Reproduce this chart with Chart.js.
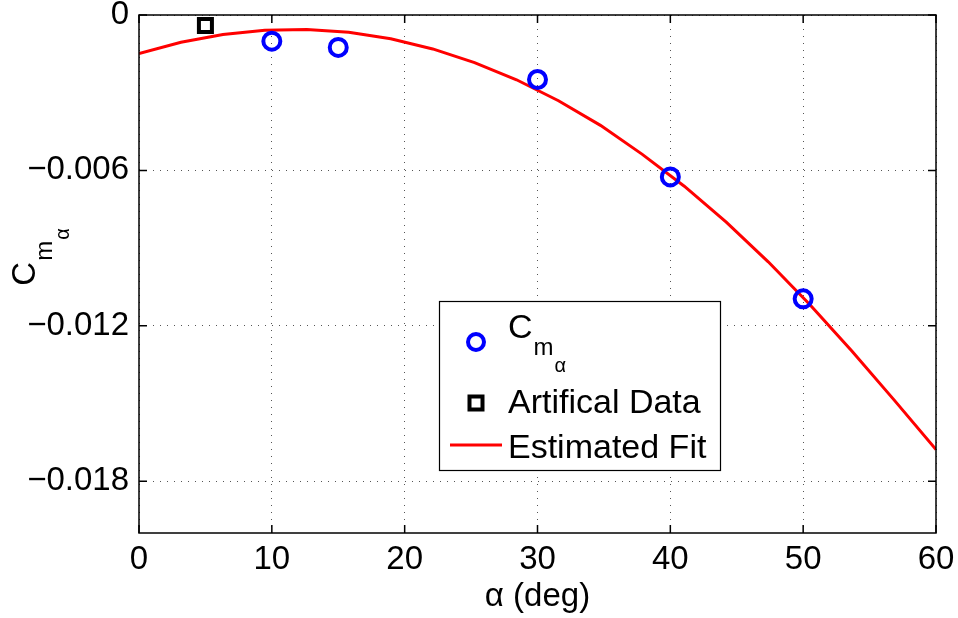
<!DOCTYPE html>
<html lang="en">
<head>
    <meta charset="UTF-8">
    <title>Cm alpha vs alpha</title>
    <script src="https://cdn.jsdelivr.net/npm/chart.js"></script>
    <style>
        body {
            margin: 0;
            background-color: #FFFFFF;
        }
        #wrap {
            width: 958px;
            height: 618px;
        }
    </style>
</head>
<body>
    <div id="wrap">
        <canvas id="cmChart" width="958" height="618"></canvas>
    </div>

    <script>
        // measured moment slope at each angle of attack
        const alphaDeg = [10, 15, 30, 40, 50];
        const cmAlpha = [-0.00101, -0.00125, -0.00249, -0.00625, -0.01096];

        // extra point added before the fit
        const artificialAlpha = [5];
        const artificialCm = [-0.00041];

        // fitted curve, sampled over 0..60 deg
        const fitAlpha = [0, 3.16, 6.32, 9.47, 12.63, 15.79, 18.95, 22.11, 25.26, 28.42,
                          31.58, 34.74, 37.89, 41.05, 44.21, 47.37, 50.53, 53.68, 56.84, 60];
        const fitCm = [-0.00149, -0.00105, -0.00075, -0.00059, -0.00056, -0.00067, -0.00092, -0.00131, -0.00184, -0.00250,
                       -0.00331, -0.00426, -0.00538, -0.00661, -0.00800, -0.00953, -0.01120, -0.01298, -0.01486, -0.01678];

        const xTicks = [0, 10, 20, 30, 40, 50, 60];
        const yTicks = [-0.018, -0.012, -0.006, 0];
        const yTickLabels = ['\u22120.018', '\u22120.012', '\u22120.006', '0'];

        const FONT = "'Liberation Sans', Arial, Helvetica, sans-serif";
        const BLUE = '#0000FF';
        const RED = '#FF0000';

        const toPoints = (xs, ys) => xs.map((x, i) => ({ x: x, y: ys[i] }));

        // draws "C" with subscript m and sub-subscript alpha, starting at (x, y) baseline
        function drawCmAlpha(ctx, x, y, size) {
            ctx.textAlign = 'left';
            ctx.textBaseline = 'alphabetic';
            ctx.font = size + 'px ' + FONT;
            ctx.fillText('C', x, y);
            x += ctx.measureText('C').width + 1;
            ctx.font = Math.round(size * 0.72) + 'px ' + FONT;
            ctx.fillText('m', x, y + 17);
            x += ctx.measureText('m').width + 1;
            ctx.font = Math.round(size * 0.6) + 'px ' + FONT;
            ctx.fillText('\u03b1', x, y + 34);
        }

        function cmAlphaWidth(ctx, size) {
            ctx.font = size + 'px ' + FONT;
            let w = ctx.measureText('C').width + 1;
            ctx.font = Math.round(size * 0.72) + 'px ' + FONT;
            w += ctx.measureText('m').width + 1;
            ctx.font = Math.round(size * 0.6) + 'px ' + FONT;
            w += ctx.measureText('\u03b1').width;
            return w;
        }

        // box around the axes with inward tick marks on all four sides
        const framePlugin = {
            id: 'frame',
            afterDatasetsDraw(chart) {
                const { ctx, chartArea: a, scales } = chart;
                ctx.save();
                ctx.strokeStyle = '#000000';
                ctx.lineWidth = 1.5;
                ctx.strokeRect(a.left, a.top, a.right - a.left, a.bottom - a.top);
                ctx.beginPath();
                xTicks.forEach(v => {
                    const px = scales.x.getPixelForValue(v);
                    ctx.moveTo(px, a.bottom); ctx.lineTo(px, a.bottom - 8);
                    ctx.moveTo(px, a.top); ctx.lineTo(px, a.top + 8);
                });
                yTicks.forEach(v => {
                    const py = scales.y.getPixelForValue(v);
                    ctx.moveTo(a.left, py); ctx.lineTo(a.left + 8, py);
                    ctx.moveTo(a.right, py); ctx.lineTo(a.right - 8, py);
                });
                ctx.stroke();
                ctx.restore();
            },
            afterDraw(chart) {
                const ctx = chart.ctx;
                ctx.save();
                ctx.fillStyle = '#000000';
                // y axis title, rotated
                const w = cmAlphaWidth(ctx, 33);
                ctx.translate(35, 257 + w / 2);
                ctx.rotate(-Math.PI / 2);
                drawCmAlpha(ctx, 0, 0, 33);
                ctx.restore();
            }
        };

        // legend box with subscripted entry
        const legendPlugin = {
            id: 'boxLegend',
            afterDraw(chart) {
                const ctx = chart.ctx;
                const bx = 439.5, by = 301.5, bw = 281, bh = 169;
                ctx.save();
                ctx.fillStyle = '#FFFFFF';
                ctx.fillRect(bx, by, bw, bh);
                ctx.strokeStyle = '#000000';
                ctx.lineWidth = 1.2;
                ctx.strokeRect(bx, by, bw, bh);

                const mx = 476;
                // circle entry
                ctx.beginPath();
                ctx.arc(mx, 342, 8, 0, Math.PI * 2);
                ctx.strokeStyle = BLUE;
                ctx.lineWidth = 4;
                ctx.stroke();
                ctx.fillStyle = '#000000';
                drawCmAlpha(ctx, 508, 338, 34);

                // square entry
                ctx.strokeStyle = '#000000';
                ctx.lineWidth = 4;
                ctx.strokeRect(mx - 6.5, 403 - 6.5, 13, 13);
                ctx.font = '34px ' + FONT;
                ctx.textAlign = 'left';
                ctx.textBaseline = 'alphabetic';
                ctx.fillText('Artifical Data', 508, 413);

                // line entry
                ctx.beginPath();
                ctx.moveTo(450, 445);
                ctx.lineTo(502, 445);
                ctx.strokeStyle = RED;
                ctx.lineWidth = 3;
                ctx.stroke();
                ctx.fillText('Estimated Fit', 508, 458);
                ctx.restore();
            }
        };

        const ctx = document.getElementById('cmChart').getContext('2d');

        const chart = new Chart(ctx, {
            type: 'scatter',
            data: {
                datasets: [
                    {
                        label: 'Estimated Fit',
                        data: toPoints(fitAlpha, fitCm),
                        showLine: true,
                        borderColor: RED,
                        borderWidth: 3,
                        pointRadius: 0,
                        tension: 0,
                        order: 3
                    },
                    {
                        label: 'Cm alpha',
                        data: toPoints(alphaDeg, cmAlpha),
                        pointStyle: 'circle',
                        pointRadius: 8.5,
                        borderColor: BLUE,
                        backgroundColor: 'rgba(0,0,0,0)',
                        borderWidth: 4,
                        order: 2
                    },
                    {
                        label: 'Artifical Data',
                        data: toPoints(artificialAlpha, artificialCm),
                        pointStyle: 'rect',
                        pointRadius: 9.2,
                        borderColor: '#000000',
                        backgroundColor: 'rgba(0,0,0,0)',
                        borderWidth: 4,
                        order: 1
                    }
                ]
            },
            options: {
                responsive: false,
                animation: false,
                devicePixelRatio: 1,
                layout: {
                    padding: { top: 15, right: 22, bottom: 0, left: 0 }
                },
                plugins: {
                    legend: { display: false },
                    tooltip: { enabled: false },
                    title: { display: false }
                },
                scales: {
                    x: {
                        type: 'linear',
                        min: 0,
                        max: 60,
                        afterBuildTicks: scale => {
                            scale.ticks = xTicks.map(v => ({ value: v }));
                        },
                        afterFit: scale => {
                            scale.height = 85;
                            scale.paddingLeft = 0;
                            scale.paddingRight = 0;
                        },
                        ticks: {
                            autoSkip: false,
                            maxRotation: 0,
                            padding: 7,
                            color: '#000000',
                            font: { family: FONT, size: 33 }
                        },
                        grid: {
                            color: '#555555',
                            lineWidth: 1,
                            drawTicks: false
                        },
                        border: { display: false, dash: [1, 6] },
                        title: {
                            display: true,
                            text: '\u03b1 (deg)',
                            color: '#000000',
                            font: { family: FONT, size: 33 },
                            padding: { top: 0, bottom: 1 }
                        }
                    },
                    y: {
                        type: 'linear',
                        min: -0.02,
                        max: 0,
                        afterBuildTicks: scale => {
                            scale.ticks = yTicks.map(v => ({ value: v }));
                        },
                        afterFit: scale => {
                            scale.width = 139;
                            scale.paddingTop = 0;
                            scale.paddingBottom = 0;
                        },
                        ticks: {
                            autoSkip: false,
                            padding: 10,
                            color: '#000000',
                            font: { family: FONT, size: 33 },
                            callback: v => {
                                const i = yTicks.findIndex(t => Math.abs(t - v) < 1e-9);
                                return i >= 0 ? yTickLabels[i] : '';
                            }
                        },
                        grid: {
                            color: '#555555',
                            lineWidth: 1,
                            drawTicks: false
                        },
                        border: { display: false, dash: [1, 6] }
                    }
                }
            },
            plugins: [framePlugin, legendPlugin]
        });
    </script>
</body>
</html>
